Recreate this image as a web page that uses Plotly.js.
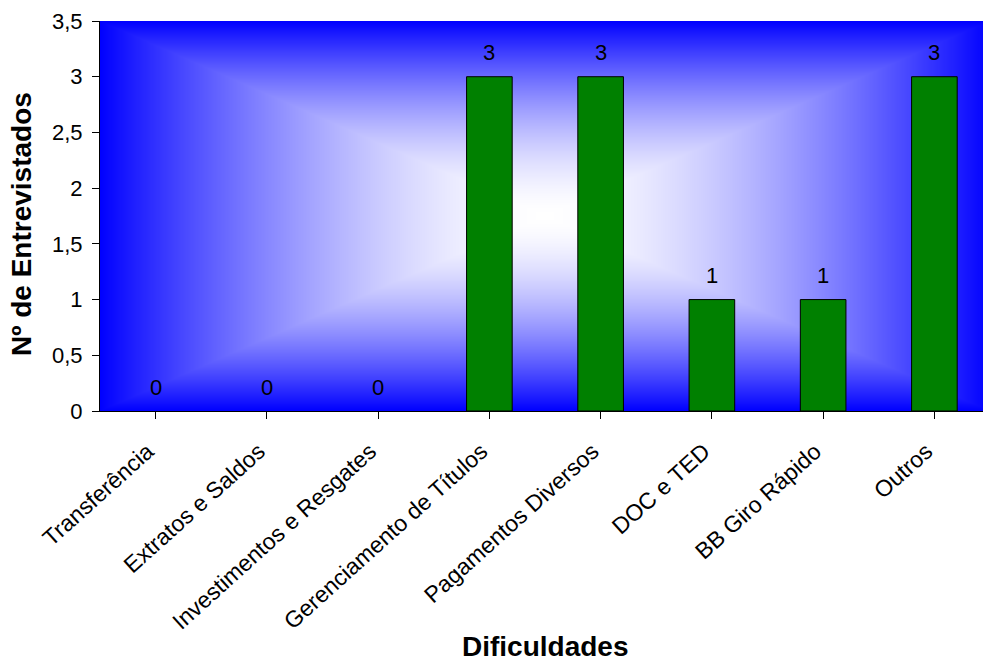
<!DOCTYPE html>
<html>
<head>
<meta charset="utf-8">
<script src="https://cdn.plot.ly/plotly-3.0.1.min.js"></script>
<style>
  html, body { margin: 0; padding: 0; background: #ffffff; }
  #chart { width: 983px; height: 662px; }
</style>
</head>
<body>
<div id="chart"></div>
<script>
// Dificuldades relatadas pelos entrevistados
const categorias = [
  'Transferência',
  'Extratos e Saldos',
  'Investimentos e Resgates',
  'Gerenciamento de Títulos',
  'Pagamentos Diversos',
  'DOC e TED',
  'BB Giro Rápido',
  'Outros'
];
const entrevistados = [0, 0, 0, 3, 3, 1, 1, 3];
const yTicks = [0, 0.5, 1, 1.5, 2, 2.5, 3, 3.5];

const FONT = 'Liberation Sans, Arial, Helvetica, sans-serif';

// Rectangular "from centre" fill: white in the middle fading to blue at the edges
function gradientBackground(w, h) {
  const cv = document.createElement('canvas');
  cv.width = w; cv.height = h;
  const ctx = cv.getContext('2d');
  const img = ctx.createImageData(w, h);
  const cx = w / 2, cy = h / 2;
  for (let y = 0; y < h; y++) {
    for (let x = 0; x < w; x++) {
      const t = Math.min(1, Math.max(Math.abs(x + 0.5 - cx) / cx, Math.abs(y + 0.5 - cy) / cy));
      const white = 1 - Math.pow(t, 1.6);
      const i = (y * w + x) * 4;
      img.data[i] = Math.round(255 * white);
      img.data[i + 1] = Math.round(255 * white);
      img.data[i + 2] = 255;
      img.data[i + 3] = 255;
    }
  }
  ctx.putImageData(img, 0, 0);
  return cv.toDataURL('image/png');
}

const idx = categorias.map((_, i) => i);

const trace = {
  type: 'bar',
  x: idx,
  y: entrevistados,
  width: 0.41,
  marker: {
    color: '#008000',
    // empty categories get no outline
    line: { color: '#000000', width: entrevistados.map(v => (v > 0 ? 1 : 0)) }
  },
  hoverinfo: 'x+y'
};

// value labels above each bar
const valueLabels = entrevistados.map((v, i) => ({
  x: i, y: v, xref: 'x', yref: 'y',
  text: String(v),
  showarrow: false,
  yanchor: 'middle',
  yshift: 24,
  font: { family: FONT, size: 22, color: '#000000' }
}));

const layout = {
  width: 983,
  height: 662,
  margin: { l: 100, r: 0, t: 21, b: 251, pad: 0 },
  paper_bgcolor: '#ffffff',
  plot_bgcolor: 'rgba(0,0,0,0)',
  separators: ',.',
  showlegend: false,
  font: { family: FONT, size: 22, color: '#000000' },
  xaxis: {
    range: [-0.5, 7.437],
    tickmode: 'array',
    tickvals: idx,
    ticktext: categorias,
    tickangle: -42,
    tickson: 'boundaries',
    ticks: 'outside',
    ticklen: 7,
    tickwidth: 1,
    tickcolor: '#000000',
    ticklabelstandoff: 10,
    ticklabelshift: -8,
    showline: true,
    linecolor: '#000000',
    linewidth: 1,
    showgrid: false,
    zeroline: false,
    fixedrange: true,
    tickfont: { family: FONT, size: 23, color: '#000000' }
  },
  yaxis: {
    range: [0, 3.5],
    tickmode: 'array',
    tickvals: yTicks,
    ticktext: yTicks.map(v => String(v).replace('.', ',')),
    ticks: 'outside',
    ticklen: 7,
    tickwidth: 1,
    tickcolor: '#000000',
    ticklabelstandoff: 5,
    showline: true,
    linecolor: '#000000',
    linewidth: 1,
    showgrid: false,
    zeroline: false,
    fixedrange: true,
    tickfont: { family: FONT, size: 22, color: '#000000' }
  },
  images: [{
    source: gradientBackground(890, 390),
    xref: 'x', yref: 'y',
    x: -0.5, y: 3.5,
    sizex: 8, sizey: 3.5,
    xanchor: 'left', yanchor: 'top',
    sizing: 'stretch',
    layer: 'below'
  }],
  annotations: valueLabels.concat([
    {
      text: '<b>Nº de Entrevistados</b>',
      xref: 'paper', yref: 'paper',
      x: -0.0883, y: 0.4795,
      xanchor: 'center', yanchor: 'middle',
      textangle: -90,
      showarrow: false,
      font: { family: FONT, size: 28, color: '#000000' }
    },
    {
      text: '<b>Dificuldades</b>',
      xref: 'x', yref: 'paper',
      x: 3.5, y: -0.605,
      xanchor: 'center', yanchor: 'middle',
      showarrow: false,
      font: { family: FONT, size: 28, color: '#000000' }
    }
  ])
};

Plotly.newPlot('chart', [trace], layout, { displayModeBar: false, staticPlot: true });
</script>
</body>
</html>
